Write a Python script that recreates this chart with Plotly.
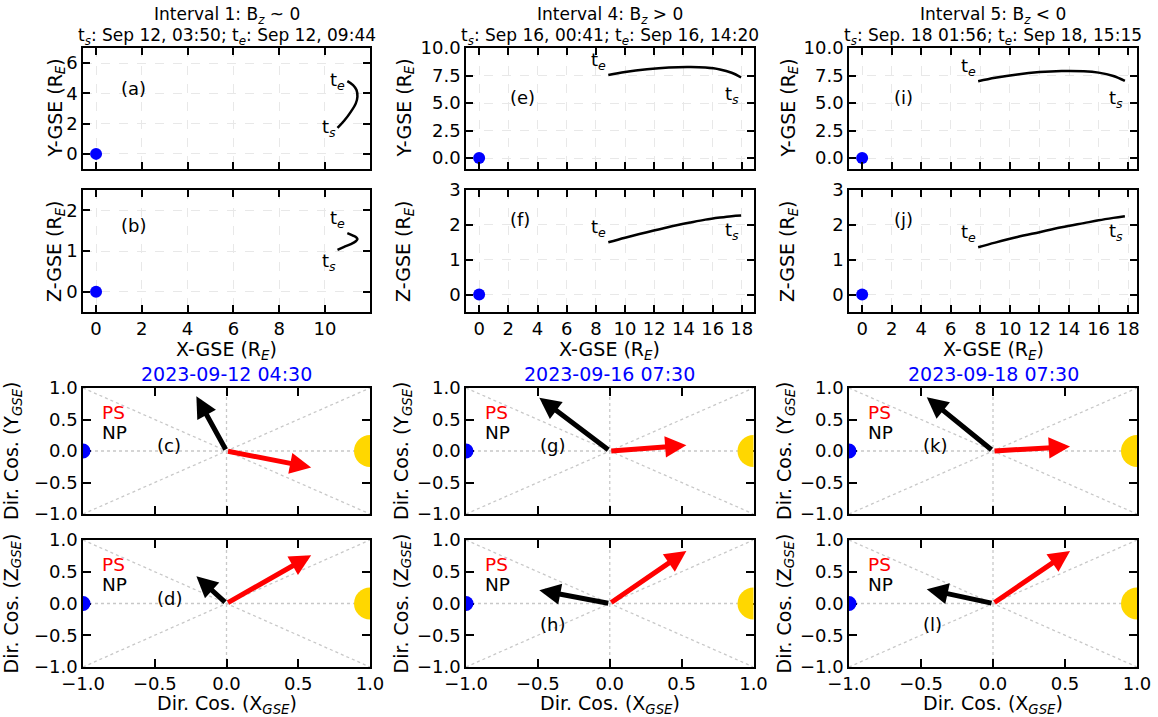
import plotly.graph_objects as go

W, H = 1158, 717
FONT = "DejaVu Sans"

# ---------------- data ----------------
interval_titles = ["Interval 1: B<sub><i>z</i></sub> ~ 0",
                   "Interval 4: B<sub><i>z</i></sub> &gt; 0",
                   "Interval 5: B<sub><i>z</i></sub> &lt; 0"]
interval_times = ["t<sub><i>s</i></sub>: Sep 12, 03:50; t<sub><i>e</i></sub>: Sep 12, 09:44",
                  "t<sub><i>s</i></sub>: Sep 16, 00:41; t<sub><i>e</i></sub>: Sep 16, 14:20",
                  "t<sub><i>s</i></sub>: Sep. 18 01:56; t<sub><i>e</i></sub>: Sep 18, 15:15"]
snapshot_times = ["2023-09-12 04:30", "2023-09-16 07:30", "2023-09-18 07:30"]

# spacecraft orbit (GSE, R_E), ordered from t_s to t_e
int1_x = [10.55, 10.84, 11.13, 11.35, 11.42, 11.38, 11.23, 10.98]
int1_y = [1.72, 2.19, 2.78, 3.34, 3.78, 4.22, 4.55, 4.81]
int1_z = [1.03, 1.10, 1.17, 1.24, 1.29, 1.33, 1.38, 1.44]

int4_x = [17.95, 17.3, 16.5, 15.5, 14.5, 13.0, 11.5, 10.0, 8.85]
int4_y = [7.32, 7.75, 8.05, 8.22, 8.27, 8.23, 8.07, 7.82, 7.55]
int4_z = [2.27, 2.25, 2.21, 2.15, 2.07, 1.94, 1.79, 1.63, 1.50]

int5_x = [17.78, 17.0, 16.0, 15.0, 13.5, 12.0, 10.5, 9.0, 7.85]
int5_y = [7.01, 7.45, 7.76, 7.89, 7.91, 7.81, 7.60, 7.29, 6.98]
int5_z = [2.25, 2.20, 2.13, 2.05, 1.93, 1.79, 1.65, 1.49, 1.36]

orbits_x = [int1_x, int4_x, int5_x]
orbits_y = [int1_y, int4_y, int5_y]
orbits_z = [int1_z, int4_z, int5_z]

# direction cosines (X, Y, Z) in GSE
ps_dircos = [[0.59, -0.26, 0.76], [0.533, 0.09, 0.826], [0.535, 0.07, 0.826]]
np_dircos = [[-0.21, 0.87, 0.43], [-0.49, 0.845, 0.21], [-0.46, 0.855, 0.226]]

earth_xy = [0.0, 0.0]
sun_dir = [1.0, 0.0]
earth_dir = [-1.0, 0.0]

top_x_ticks = [[0, 2, 4, 6, 8, 10], list(range(0, 19, 2)), list(range(0, 19, 2))]
top_y_ticks = [[0, 2, 4, 6], [0, 2.5, 5, 7.5, 10], [0, 2.5, 5, 7.5, 10]]
mid_z_ticks = [[0, 1, 2], [0, 1, 2, 3], [0, 1, 2, 3]]
dc_ticks = [-1, -0.5, 0, 0.5, 1]

panel_letters = [["(a)", "(b)", "(c)", "(d)"],
                 ["(e)", "(f)", "(g)", "(h)"],
                 ["(i)", "(j)", "(k)", "(l)"]]

# ---------------- layout geometry ----------------
cols_px = [(83, 370), (466, 753.5), (849, 1137)]
rows_px = [(48, 169), (190, 312), (388, 514), (540, 667)]
top_xrange = [[-0.57, 11.97], [-0.9, 18.8], [-0.89, 18.6]]
top_yrange = [[-1, 7], [-1, 10], [-1, 10]]
mid_yrange = [[-0.5, 2.5], [-0.5, 3], [-0.5, 3]]


def px2x(p):
    return p / W


def py2y(p):
    return 1 - p / H


def idx(r, c):
    return r * 3 + c + 1


def xname(i):
    return "x" if i == 1 else f"x{i}"


def yname(i):
    return "y" if i == 1 else f"y{i}"


fig = go.Figure()
layout = dict(
    width=W, height=H, margin=dict(l=0, r=0, t=0, b=0, pad=0, autoexpand=False),
    paper_bgcolor="white", plot_bgcolor="white", showlegend=False,
    font=dict(family=FONT, size=18, color="black"),
)
annotations = []
shapes = []

TF = dict(family=FONT, size=18, color="black")
GRID = dict(showgrid=True, gridcolor="#e8e8e8", griddash="dash", gridwidth=0.8)

for c in range(3):
    x0, x1 = cols_px[c]
    for r in range(4):
        i = idx(r, c)
        y0, y1 = rows_px[r]
        common = dict(showline=True, linecolor="black", linewidth=1.5, mirror="allticks",
                      ticks="inside", ticklen=7, tickwidth=1.5, tickcolor="black",
                      zeroline=False, tickfont=TF, automargin=False)
        xa = dict(domain=[px2x(x0), px2x(x1)], anchor=yname(i), **common)
        ya = dict(domain=[py2y(y1), py2y(y0)], anchor=xname(i), **common)
        if r < 2:
            xa.update(range=top_xrange[c], tickmode="array", tickvals=top_x_ticks[c],
                      showticklabels=(r == 1), **GRID)
            if r == 0:
                ya.update(range=top_yrange[c], tickmode="array", tickvals=top_y_ticks[c],
                          tickformat=".0f" if c == 0 else ".1f")
            else:
                ya.update(range=mid_yrange[c], tickmode="array", tickvals=mid_z_ticks[c],
                          tickformat=".0f")
            ya.update(**GRID)
        else:
            xa.update(range=[-1, 1], tickmode="array", tickvals=dc_ticks, tickformat=".1f",
                      showgrid=False, showticklabels=(r == 3), ticklen=8)
            ya.update(range=[-1, 1], tickmode="array", tickvals=dc_ticks, tickformat=".1f",
                      showgrid=False, ticklen=8)
        layout["xaxis" if i == 1 else f"xaxis{i}"] = xa
        layout["yaxis" if i == 1 else f"yaxis{i}"] = ya

    # ---- orbit panels ----
    ox, oy, oz = orbits_x[c], orbits_y[c], orbits_z[c]
    for r, vals in ((0, oy), (1, oz)):
        i = idx(r, c)
        fig.add_trace(go.Scatter(x=ox, y=vals, mode="lines",
                                 line=dict(color="black", width=2.5, shape="spline"),
                                 xaxis=xname(i), yaxis=yname(i), hoverinfo="skip"))
        fig.add_trace(go.Scatter(x=[earth_xy[0]], y=[earth_xy[1]], mode="markers",
                                 marker=dict(color="blue", size=12),
                                 xaxis=xname(i), yaxis=yname(i), hoverinfo="skip"))

    # t_s / t_e labels (anchors per panel)
    lab_anchor = {
        (0, 0): ("middle", 0, "middle", 0), (0, 1): ("top", 2, "bottom", 0),
        (1, 0): ("top", -4, "bottom", 0), (1, 1): ("top", -2, "bottom", 0),
        (2, 0): ("top", -4, "bottom", 0), (2, 1): ("top", -2, "bottom", 0),
    }
    for r, vals in ((0, oy), (1, oz)):
        i = idx(r, c)
        sa, sshift, ea, eshift = lab_anchor[(c, r)]
        annotations.append(dict(x=ox[0], y=vals[0], xref=xname(i), yref=yname(i), showarrow=False,
                                text="t<sub><i>s</i></sub>", xanchor="right", yanchor=sa,
                                yshift=sshift, font=TF))
        annotations.append(dict(x=ox[-1], y=vals[-1], xref=xname(i), yref=yname(i), showarrow=False,
                                text="t<sub><i>e</i></sub>", xanchor="right", yanchor=ea,
                                yshift=eshift, font=TF))

    # panel letters on orbit panels
    letter_pos = [[(1.0, 4.33), (1.0, 1.62)], [(2.0, 5.5), (2.0, 2.15)], [(2.0, 5.5), (2.0, 2.14)]]
    for r in range(2):
        i = idx(r, c)
        lx, ly = letter_pos[c][r]
        annotations.append(dict(x=lx, y=ly, xref=xname(i), yref=yname(i), showarrow=False,
                                text=panel_letters[c][r], xanchor="left", yanchor="middle", font=TF))

    # ---- direction cosine panels ----
    for r, comp in ((2, 1), (3, 2)):
        i = idx(r, c)
        xr, yr = xname(i), yname(i)
        for (a0, b0, a1, b1) in ((-1, -1, 1, 1), (-1, 1, 1, -1), (0, -1, 0, 1), (-1, 0, 1, 0)):
            shapes.append(dict(type="line", xref=xr, yref=yr, x0=a0, y0=b0, x1=a1, y1=b1,
                               line=dict(color="#c8c8c8", width=1.3, dash="dot"), layer="below"))
        # Earth (blue) and Sun (gold) discs, clipped by the axes frame
        for (px_, py_), rad, colr in ((earth_dir, 7.5, "blue"), (sun_dir, 16, "#FFD700")):
            shapes.append(dict(type="circle", xref=xr, yref=yr, xsizemode="pixel", ysizemode="pixel",
                               xanchor=px_, yanchor=py_, x0=-rad, x1=rad, y0=-rad, y1=rad,
                               fillcolor=colr, line=dict(width=0), layer="above"))
        for vec, col in ((np_dircos[c], "black"), (ps_dircos[c], "red")):
            annotations.append(dict(x=vec[0], y=vec[comp], ax=0, ay=0, xref=xr, yref=yr,
                                    axref=xr, ayref=yr, text="", showarrow=True,
                                    arrowhead=2, arrowsize=0.85, arrowwidth=5,
                                    arrowcolor=col, standoff=0, startstandoff=0))
        annotations.append(dict(x=-0.88, y=0.61, xref=xr, yref=yr, showarrow=False, text="PS",
                                xanchor="left", yanchor="middle",
                                font=dict(family=FONT, size=18.5, color="red")))
        annotations.append(dict(x=-0.88, y=0.30, xref=xr, yref=yr, showarrow=False, text="NP",
                                xanchor="left", yanchor="middle",
                                font=dict(family=FONT, size=18.5, color="black")))
        ly = 0.08 if (r == 2 or c == 0) else -0.33
        annotations.append(dict(x=-0.5, y=ly, xref=xr, yref=yr, showarrow=False,
                                text=panel_letters[c][r], xanchor="left", yanchor="middle", font=TF))

    # ---- titles ----
    cx = px2x((x0 + x1) / 2)
    annotations.append(dict(x=cx, y=py2y(16), xref="paper", yref="paper", showarrow=False,
                            text=interval_titles[c], xanchor="center", yanchor="middle",
                            font=dict(family=FONT, size=17, color="black")))
    annotations.append(dict(x=cx, y=py2y(37), xref="paper", yref="paper", showarrow=False,
                            text=interval_times[c], xanchor="center", yanchor="middle",
                            font=dict(family=FONT, size=17, color="black")))
    annotations.append(dict(x=cx, y=py2y(374), xref="paper", yref="paper", showarrow=False,
                            text=snapshot_times[c], xanchor="center", yanchor="middle",
                            font=dict(family=FONT, size=19, color="blue")))
    # x-axis titles
    annotations.append(dict(x=cx, y=py2y(350), xref="paper", yref="paper", showarrow=False,
                            text="X-GSE (R<sub><i>E</i></sub>)", xanchor="center", yanchor="middle",
                            font=dict(family=FONT, size=19)))
    annotations.append(dict(x=cx, y=py2y(704), xref="paper", yref="paper", showarrow=False,
                            text="Dir. Cos. (X<sub><i>GSE</i></sub>)", xanchor="center", yanchor="middle",
                            font=dict(family=FONT, size=19)))
    # y-axis titles
    ytx_top = [56, 405, 789][c]
    ytx_bot = [12, 402, 785][c]
    for r, txt, xp in ((0, "Y-GSE (R<sub><i>E</i></sub>)", ytx_top),
                       (1, "Z-GSE (R<sub><i>E</i></sub>)", ytx_top),
                       (2, "Dir. Cos. (Y<sub><i>GSE</i></sub>)", ytx_bot),
                       (3, "Dir. Cos. (Z<sub><i>GSE</i></sub>)", ytx_bot)):
        ry0, ry1 = rows_px[r]
        annotations.append(dict(x=px2x(xp), y=py2y((ry0 + ry1) / 2), xref="paper", yref="paper",
                                showarrow=False, text=txt, textangle=-90, xanchor="center",
                                yanchor="middle", font=dict(family=FONT, size=19)))

layout["annotations"] = annotations
layout["shapes"] = shapes
fig.update_layout(**layout)
fig.write_html("out.html")
